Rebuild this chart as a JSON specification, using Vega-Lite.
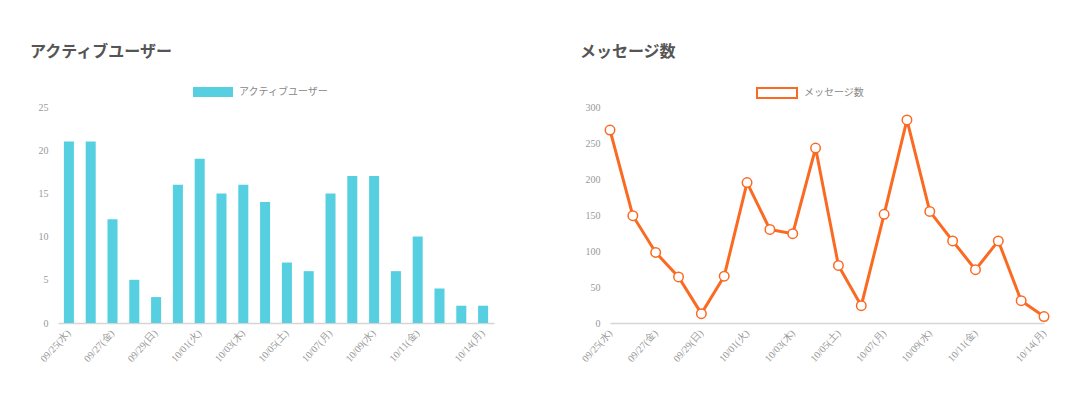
{
  "$schema": "https://vega.github.io/schema/vega-lite/v6.json",
  "background": "white",
  "padding": {"left": 30, "top": 44, "right": 5, "bottom": 5},
  "data": {"values": [
    {"date": "09/25(水)", "users": 21, "messages": 268},
    {"date": "09/26(木)", "users": 21, "messages": 149},
    {"date": "09/27(金)", "users": 12, "messages": 98},
    {"date": "09/28(土)", "users": 5, "messages": 64},
    {"date": "09/29(日)", "users": 3, "messages": 13},
    {"date": "09/30(月)", "users": 16, "messages": 65},
    {"date": "10/01(火)", "users": 19, "messages": 195},
    {"date": "10/02(水)", "users": 15, "messages": 130},
    {"date": "10/03(木)", "users": 16, "messages": 124},
    {"date": "10/04(金)", "users": 14, "messages": 243},
    {"date": "10/05(土)", "users": 7, "messages": 80},
    {"date": "10/06(日)", "users": 6, "messages": 24},
    {"date": "10/07(月)", "users": 15, "messages": 151},
    {"date": "10/08(火)", "users": 17, "messages": 282},
    {"date": "10/09(水)", "users": 17, "messages": 155},
    {"date": "10/10(木)", "users": 6, "messages": 114},
    {"date": "10/11(金)", "users": 10, "messages": 74},
    {"date": "10/12(土)", "users": 4, "messages": 114},
    {"date": "10/13(日)", "users": 2, "messages": 31},
    {"date": "10/14(月)", "users": 2, "messages": 9}
  ]},
  "spacing": 85,
  "hconcat": [
    {
      "width": 436,
      "height": 216,
      "title": {"text": "アクティブユーザー", "dx": -8},
      "mark": {"type": "bar", "color": "#56d0e0"},
      "encoding": {
        "x": {
          "field": "date", "type": "nominal", "sort": null,
          "scale": {"paddingInner": 0.54, "paddingOuter": 0.27},
          "axis": {"values": ["09/25(水)","09/27(金)","09/29(日)","10/01(火)","10/03(木)","10/05(土)","10/07(月)","10/09(水)","10/11(金)","10/14(月)"]}
        },
        "y": {
          "field": "users", "type": "quantitative",
          "scale": {"domain": [0, 25]},
          "axis": {"values": [0, 5, 10, 15, 20, 25]}
        },
        "color": {
          "datum": "アクティブユーザー", "type": "nominal",
          "scale": {"range": ["#56d0e0"]},
          "legend": {
            "orient": "none", "legendX": 135, "legendY": -35,
            "encode": {"symbols": {"update": {
              "shape": {"value": "M-1,-0.25H1V0.25H-1Z"},
              "size": {"value": 1600},
              "fill": {"value": "#56d0e0"},
              "strokeWidth": {"value": 0}
            }}}
          }
        }
      }
    },
    {
      "width": 434,
      "height": 216,
      "title": {"text": "メッセージ数", "dx": 0},
      "encoding": {
        "x": {
          "field": "date", "type": "nominal", "sort": null,
          "scale": {"type": "point", "padding": 0},
          "axis": {"values": ["09/25(水)","09/27(金)","09/29(日)","10/01(火)","10/03(木)","10/05(土)","10/07(月)","10/09(水)","10/11(金)","10/14(月)"]}
        },
        "y": {
          "field": "messages", "type": "quantitative",
          "scale": {"domain": [0, 300]},
          "axis": {"values": [0, 50, 100, 150, 200, 250, 300]}
        }
      },
      "layer": [
        {
          "mark": {"type": "line", "strokeWidth": 3},
          "encoding": {
            "color": {
              "datum": "メッセージ数", "type": "nominal",
              "scale": {"range": ["#fb6a22"]},
              "legend": {
                "orient": "none", "legendX": 146, "legendY": -35,
                "encode": {"symbols": {"update": {
                  "shape": {"value": "M-1,-0.25H1V0.25H-1Z"},
                  "size": {"value": 1600},
                  "fill": {"value": "white"},
                  "stroke": {"value": "#fb6a22"},
                  "strokeWidth": {"value": 2}
                }}}
              }
            }
          }
        },
        {
          "mark": {"type": "point", "filled": true, "fill": "white", "stroke": "#fb6a22", "strokeWidth": 1.5, "size": 90, "opacity": 1}
        }
      ]
    }
  ],
  "resolve": {"scale": {"color": "independent"}, "legend": {"color": "independent"}},
  "config": {
    "view": {"stroke": null},
    "title": {
      "anchor": "start", "font": "Noto Sans CJK JP", "fontSize": 16, "fontWeight": "bold",
      "color": "#555555", "offset": 12
    },
    "legend": {
      "padding": 0, "labelFont": "Noto Sans CJK JP", "labelFontSize": 10,
      "labelColor": "#888888", "labelOffset": 6, "title": null
    },
    "axisX": {
      "title": null, "labelAngle": -48, "labelAlign": "right", "labelBaseline": "middle",
      "ticks": false, "labelPadding": 8, "domainColor": "#d5d5d5", "domainWidth": 1.5,
      "labelFont": "Liberation Serif", "labelFontSize": 10, "labelColor": "#999999",
      "grid": false, "labelOverlap": false
    },
    "axisY": {
      "title": null, "domain": false, "ticks": false, "grid": false, "labelPadding": 10,
      "labelFont": "Liberation Serif", "labelFontSize": 10, "labelColor": "#999999"
    }
  }
}
